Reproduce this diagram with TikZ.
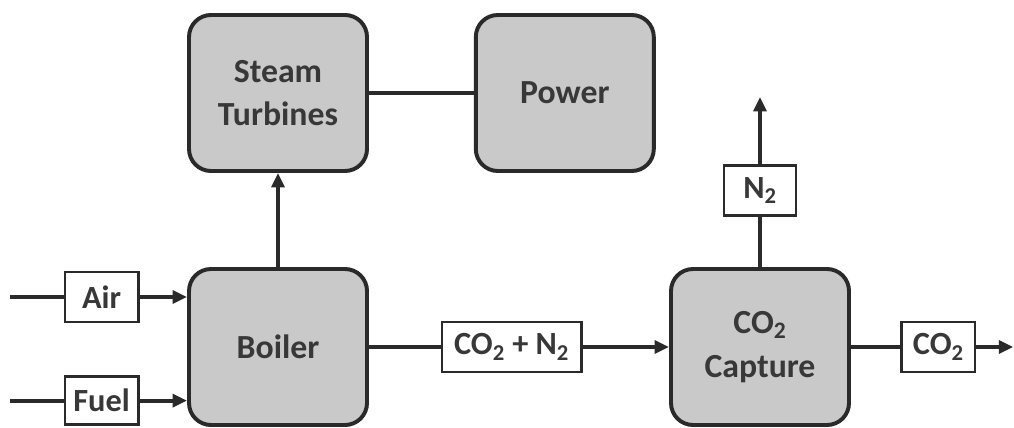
\documentclass[tikz,border=0pt]{standalone}
\usepackage{fontspec}
\setmainfont{Carlito}
\usetikzlibrary{arrows.meta}
\definecolor{unitgray}{HTML}{C9C9C9}
\definecolor{linegray}{HTML}{2A2A2A}
\definecolor{textgray}{HTML}{383838}
\tikzset{
	unit/.style={draw=linegray, line width=2.8pt, fill=unitgray, rounded corners=0.55cm,
		minimum width=4.45cm, minimum height=3.9cm, align=center,
		font=\fontsize{24}{31}\selectfont\bfseries, text=textgray},
	stream/.style={draw=linegray, line width=2pt, fill=white, minimum height=1.25cm,
		inner xsep=2pt, font=\fontsize{23}{26}\selectfont\bfseries, text=textgray},
	pipe/.style={draw=linegray, line width=2.8pt},
	flow/.style={pipe, -{Triangle[length=0.36cm, width=0.32cm]}}
}

\begin{document}
\begin{tikzpicture}
			%%%%% START %%%%%
			\useasboundingbox (0, 0) rectangle (25.35, 10.675);
			
			% main units
			\node[unit] (turb) at (6.95, 8.35) {Steam\\Turbines};
			\node[unit] (power) at (14.12, 8.35) {Power};
			\node[unit] (boiler) at (6.95, 2.0) {Boiler};
			\node[unit] (capture) at (19.0, 2.0) {CO\textsubscript{2}\\Capture};
			
			% stream labels
			\node[stream, minimum width=1.83cm] (air) at (2.54, 3.25) {Air};
			\node[stream, minimum width=1.83cm, minimum height=1.2cm] (fuel) at (2.54, 0.66) {Fuel};
			\node[stream, minimum width=3.48cm] (flue) at (12.79, 2.0) {CO\textsubscript{2} + N\textsubscript{2}};
			\node[stream, minimum width=1.8cm] (nitro) at (19.0, 5.91) {N\textsubscript{2}};
			\node[stream, minimum width=1.83cm] (carbon) at (23.46, 2.0) {CO\textsubscript{2}};
			
			% free ends
			\coordinate (airin) at (0.25, 3.25);
			\coordinate (fuelin) at (0.25, 0.66);
			\coordinate (ventout) at (19.0, 8.25);
			\coordinate (storeout) at (25.33, 2.0);
			
			\draw[pipe] (airin) -- (air);
			\draw[flow] (air) -- (air -| boiler.west);
			\draw[pipe] (fuelin) -- (fuel);
			\draw[flow] (fuel) -- (fuel -| boiler.west);
			
			\draw[flow] (boiler) -- (turb);
			\draw[pipe] (turb) -- (power);
			
			\draw[pipe] (boiler) -- (flue);
			\draw[flow] (flue) -- (capture);
			
			\draw[pipe] (capture) -- (nitro);
			\draw[flow] (nitro) -- (ventout);
			\draw[pipe] (capture) -- (carbon);
			\draw[flow] (carbon) -- (storeout);
			
			%%%%% END %%%%%
\end{tikzpicture}
\end{document}
